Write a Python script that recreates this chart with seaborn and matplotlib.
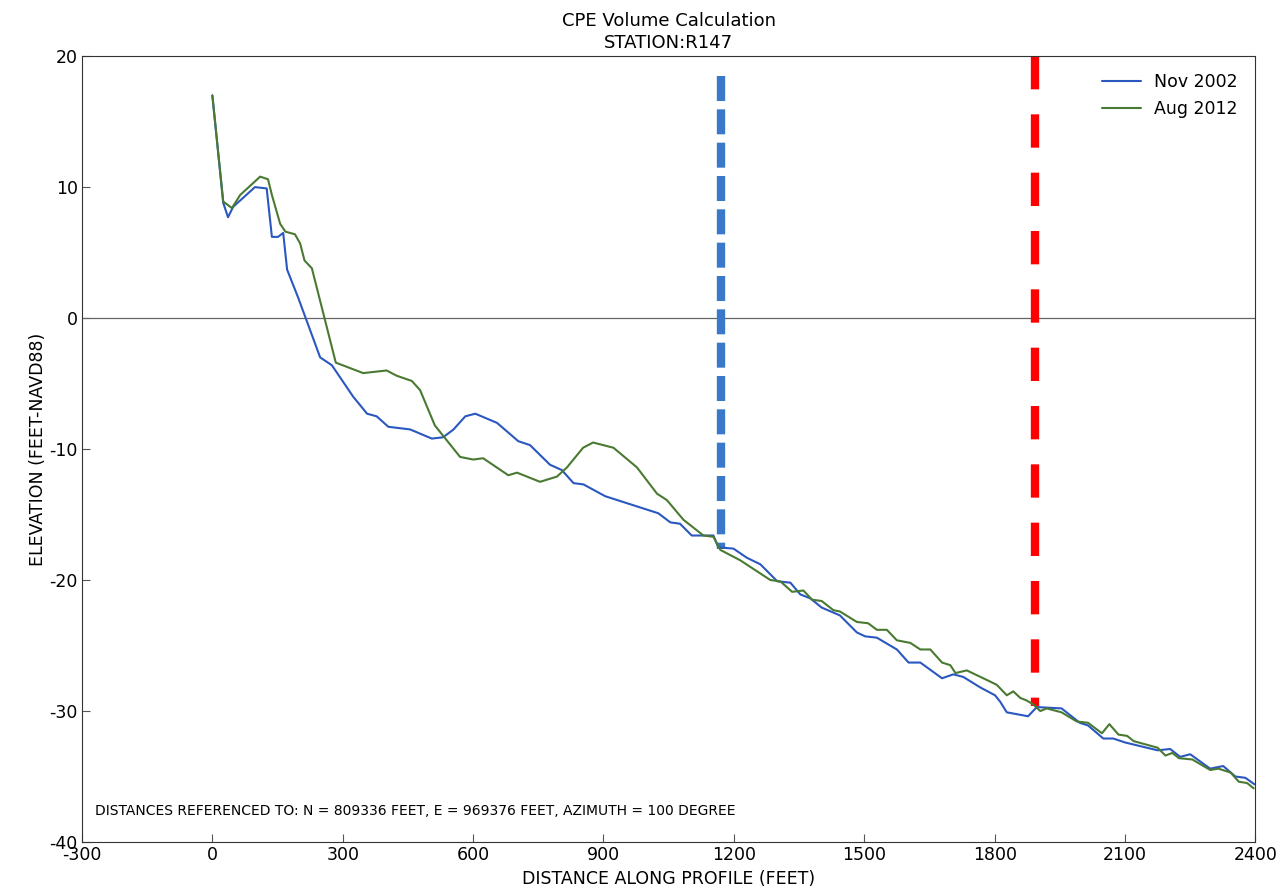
import matplotlib
matplotlib.use('Agg')
import matplotlib.pyplot as plt
import seaborn as sns
from pandas import DataFrame

sns.set_style('ticks')
plt.rcParams['font.family'] = ['DejaVu Sans']
plt.rcParams['xtick.direction'] = 'in'
plt.rcParams['ytick.direction'] = 'in'
plt.rcParams['axes.unicode_minus'] = False
plt.rcParams['text.color'] = 'black'
plt.rcParams['axes.labelcolor'] = 'black'
plt.rcParams['xtick.labelcolor'] = 'black'
plt.rcParams['ytick.labelcolor'] = 'black'

# profile data (distance ft, elevation ft-NAVD88)
nov2002_x = [0, 25, 36, 48, 98, 125, 137, 151, 163, 172, 197, 248, 275, 324, 356, 378, 405,
             455, 505, 531, 555, 582, 605, 655, 704, 731, 777, 804, 831, 854, 904, 1026,
             1054, 1076, 1103, 1153, 1164, 1199, 1230, 1261, 1300, 1330, 1353, 1376, 1402,
             1444, 1483, 1502, 1529, 1575, 1602, 1629, 1679, 1705, 1728, 1767, 1801, 1813,
             1828, 1877, 1897, 1954, 1996, 2015, 2050, 2073, 2100, 2175, 2204, 2227, 2250,
             2296, 2326, 2354, 2377, 2398]
nov2002_y = [17.0, 8.8, 7.7, 8.5, 10.0, 9.9, 6.2, 6.2, 6.5, 3.7, 1.6, -3.0, -3.6, -6.0, -7.3,
             -7.5, -8.3, -8.5, -9.2, -9.1, -8.5, -7.5, -7.3, -8.0, -9.4, -9.7, -11.2, -11.6,
             -12.6, -12.7, -13.6, -14.9, -15.6, -15.7, -16.6, -16.6, -17.5, -17.6, -18.3,
             -18.8, -20.1, -20.2, -21.1, -21.4, -22.1, -22.7, -24.0, -24.3, -24.4, -25.3,
             -26.3, -26.3, -27.5, -27.2, -27.4, -28.2, -28.8, -29.3, -30.1, -30.4, -29.7,
             -29.8, -30.9, -31.1, -32.1, -32.1, -32.4, -33.0, -32.9, -33.5, -33.3, -34.4,
             -34.2, -35.0, -35.1, -35.6]

aug2012_x = [0, 25, 45, 64, 110, 128, 137, 156, 168, 190, 202, 212, 229, 284, 347, 401, 424,
             459, 478, 512, 570, 600, 623, 681, 701, 754, 793, 816, 853, 876, 923, 977, 1023,
             1046, 1084, 1130, 1153, 1169, 1215, 1238, 1284, 1307, 1334, 1360, 1380, 1402,
             1429, 1444, 1483, 1509, 1529, 1552, 1575, 1606, 1629, 1652, 1679, 1698, 1710,
             1736, 1774, 1805, 1828, 1843, 1859, 1874, 1889, 1905, 1920, 1954, 1989, 2015,
             2047, 2064, 2085, 2105, 2120, 2175, 2193, 2209, 2224, 2255, 2296, 2315, 2343,
             2362, 2381, 2396]
aug2012_y = [17.0, 8.9, 8.4, 9.4, 10.8, 10.6, 9.4, 7.2, 6.6, 6.4, 5.7, 4.4, 3.8, -3.4, -4.2,
             -4.0, -4.4, -4.8, -5.5, -8.2, -10.6, -10.8, -10.7, -12.0, -11.8, -12.5, -12.1,
             -11.4, -9.9, -9.5, -9.9, -11.4, -13.4, -13.9, -15.4, -16.6, -16.7, -17.7, -18.5,
             -19.0, -20.0, -20.1, -20.9, -20.8, -21.5, -21.6, -22.3, -22.4, -23.2, -23.3,
             -23.8, -23.8, -24.6, -24.8, -25.3, -25.3, -26.3, -26.5, -27.1, -26.9, -27.5,
             -28.0, -28.8, -28.5, -29.0, -29.2, -29.5, -30.0, -29.8, -30.1, -30.8, -30.9,
             -31.7, -31.0, -31.8, -31.9, -32.3, -32.8, -33.4, -33.2, -33.6, -33.7, -34.5,
             -34.4, -34.7, -35.4, -35.5, -35.9]

# dashed boundary markers: (distance, top, bottom)
landward_limit = (1171, 18.5, -17.6)
seaward_limit = (1892, 20.0, -29.6)

x_ticks = [-300, 0, 300, 600, 900, 1200, 1500, 1800, 2100, 2400]
y_ticks = [20, 10, 0, -10, -20, -30, -40]

df = DataFrame({
    'dist': nov2002_x + aug2012_x,
    'elev': nov2002_y + aug2012_y,
    'survey': ['Nov 2002'] * len(nov2002_x) + ['Aug 2012'] * len(aug2012_x),
})

fig = plt.figure(figsize=(12.81, 8.91), dpi=100)
ax = fig.add_axes([0.064, 0.055, 0.916, 0.882])

ax.axhline(0, color='#666666', lw=0.9, zorder=1)
# draw top-down so the dash pattern starts at the top like the original
ax.plot([landward_limit[0]] * 2, [landward_limit[1], landward_limit[2]], color='#3a78c9',
        ls=(0, (3, 1)), lw=6, zorder=2)
ax.plot([seaward_limit[0]] * 2, [seaward_limit[1], seaward_limit[2]], color='#ff0000',
        ls=(0, (4, 3)), lw=6, zorder=2)

sns.lineplot(data=df, x='dist', y='elev', hue='survey', sort=False, estimator=None,
             palette={'Nov 2002': '#2a57c0', 'Aug 2012': '#4a7a32'}, lw=1.5, ax=ax, zorder=3)

ax.set_xlim(-300, 2400)
ax.set_ylim(-40, 20)
ax.set_xticks(x_ticks)
ax.set_yticks(y_ticks)
ax.tick_params(labelsize=12.5, length=6, width=0.8, color='#555555', pad=3)
for s in ax.spines.values():
    s.set_color('#333333')
    s.set_linewidth(0.8)

ax.set_title('CPE Volume Calculation\nSTATION:R147', fontsize=13, pad=6, linespacing=1.3)
ax.set_xlabel('DISTANCE ALONG PROFILE (FEET)', fontsize=12.5, labelpad=4)
ax.set_ylabel('ELEVATION (FEET-NAVD88)', fontsize=12.5, labelpad=2)
ax.text(0.011, 0.03, 'DISTANCES REFERENCED TO: N = 809336 FEET, E = 969376 FEET, AZIMUTH = 100 DEGREE',
        transform=ax.transAxes, fontsize=10, ha='left', va='bottom')

leg = ax.legend(loc='upper right', frameon=False, fontsize=12.5, handlelength=2.2,
                borderaxespad=0.6, title=None)

fig.savefig('out.png', dpi=100)
